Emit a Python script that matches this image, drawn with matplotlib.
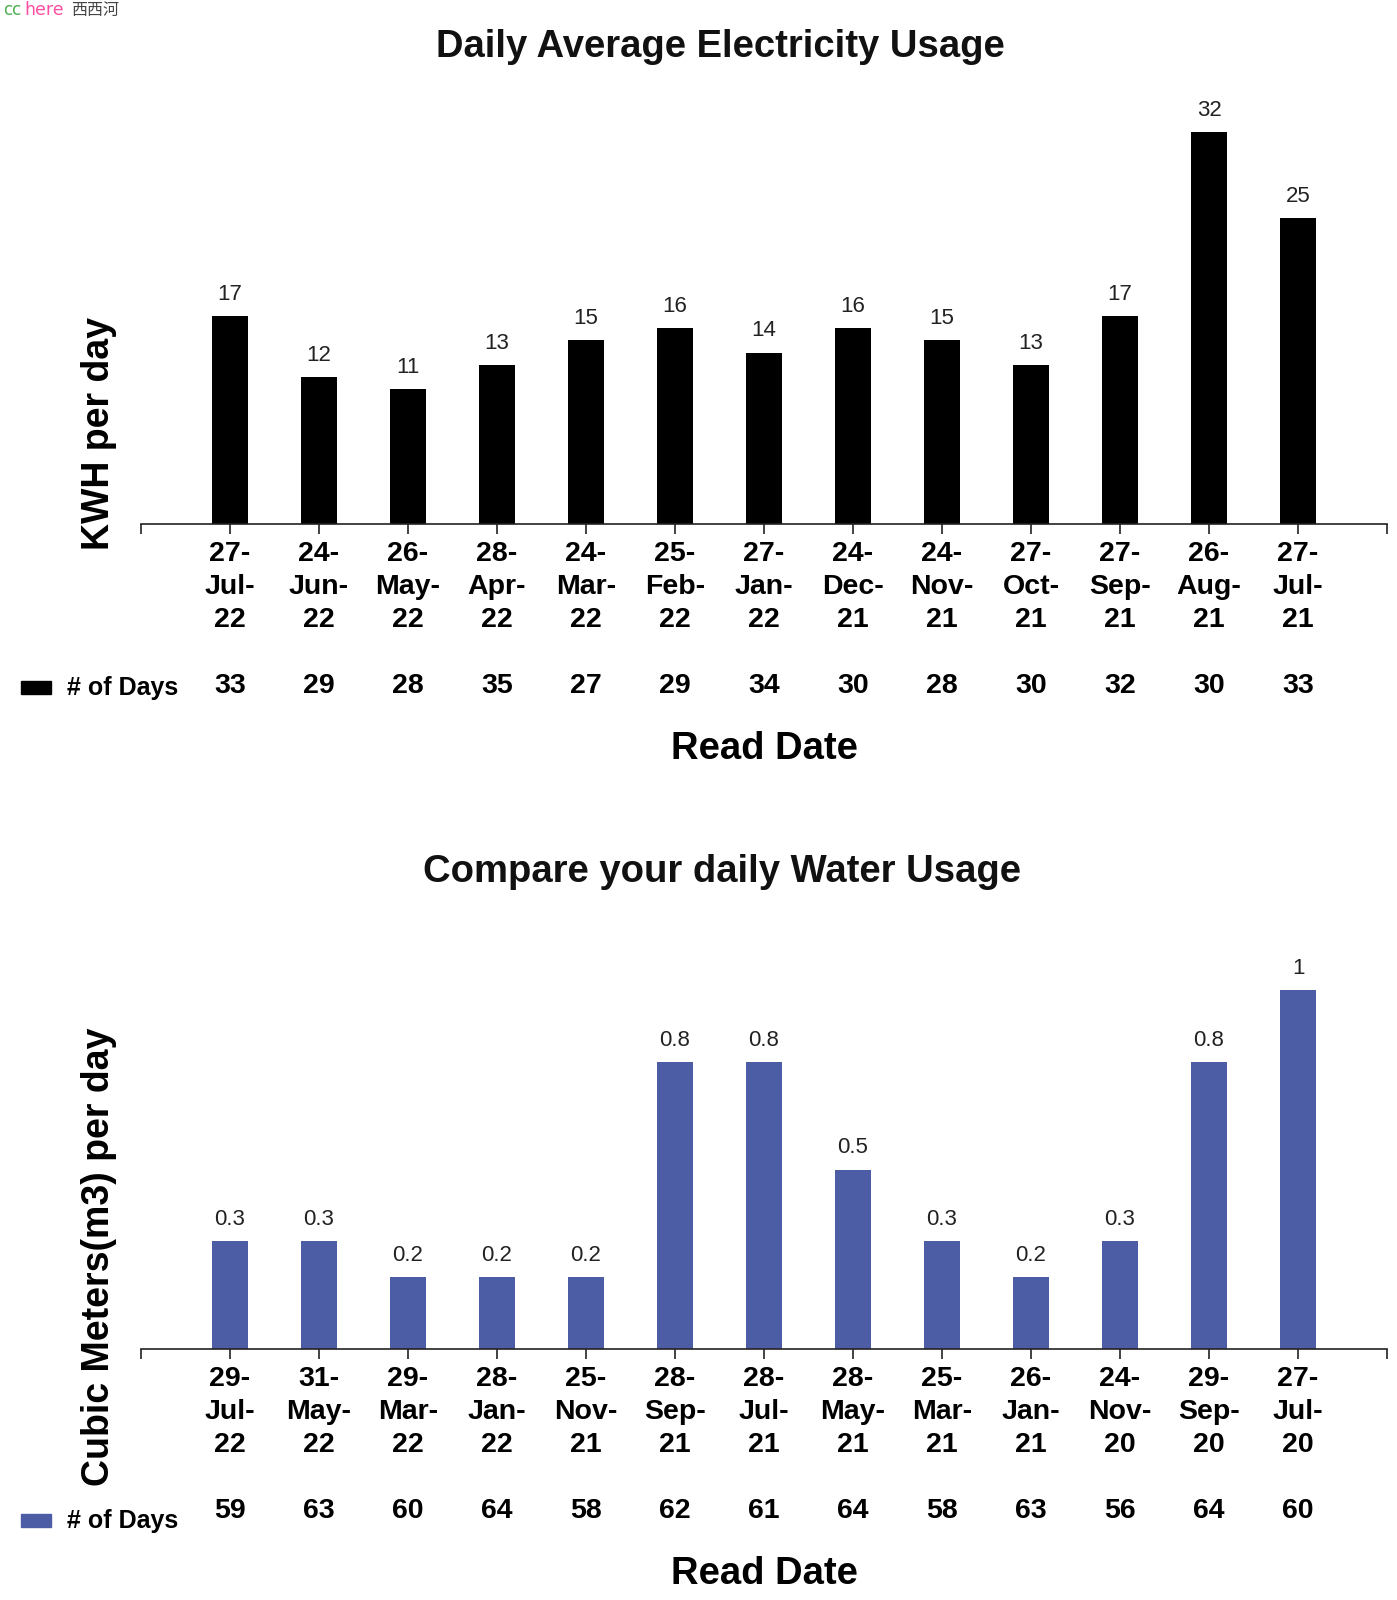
import numpy as np
import matplotlib.pyplot as plt
from matplotlib.patches import Rectangle

plt.rcParams['font.family'] = ['Liberation Sans', 'DejaVu Sans']

# Electricity data
elec_dates = ["27-\nJul-\n22", "24-\nJun-\n22", "26-\nMay-\n22", "28-\nApr-\n22", "24-\nMar-\n22",
              "25-\nFeb-\n22", "27-\nJan-\n22", "24-\nDec-\n21", "24-\nNov-\n21", "27-\nOct-\n21",
              "27-\nSep-\n21", "26-\nAug-\n21", "27-\nJul-\n21"]
elec_kwh = [17, 12, 11, 13, 15, 16, 14, 16, 15, 13, 17, 32, 25]
elec_days = [33, 29, 28, 35, 27, 29, 34, 30, 28, 30, 32, 30, 33]

# Water data
water_dates = ["29-\nJul-\n22", "31-\nMay-\n22", "29-\nMar-\n22", "28-\nJan-\n22", "25-\nNov-\n21",
               "28-\nSep-\n21", "28-\nJul-\n21", "28-\nMay-\n21", "25-\nMar-\n21", "26-\nJan-\n21",
               "24-\nNov-\n20", "29-\nSep-\n20", "27-\nJul-\n20"]
water_m3 = [0.3, 0.3, 0.2, 0.2, 0.2, 0.8, 0.8, 0.5, 0.3, 0.2, 0.3, 0.8, 1]
water_days = [59, 63, 60, 64, 58, 62, 61, 64, 58, 63, 56, 64, 60]

W, H = 1397, 1600
fig = plt.figure(figsize=(W / 100, H / 100), dpi=100)


def fx(px):
    return px / W


def fy(py):
    return 1 - py / H


def make_chart(top, base, ymax, dates, vals, days, color, title, title_xy,
               ylabel, ylab_y, days_y, leg_y, xlab_y):
    left, right = 141, 1387
    ax = fig.add_axes([fx(left), fy(base), fx(right - left), (base - top) / H])
    x = np.arange(len(vals))
    bars = ax.bar(x, vals, width=0.4, color=color)
    ax.bar_label(bars, labels=['{:g}'.format(v) for v in vals], padding=8,
                 fontsize=16, color='#222222')
    ax.set_xlim(-1, len(vals))
    ax.set_ylim(0, ymax)
    for s in ['left', 'top', 'right']:
        ax.spines[s].set_visible(False)
    ax.spines['bottom'].set_linewidth(1.2)
    ax.spines['bottom'].set_color('#222222')
    ax.set_yticks([])
    ax.set_xticks(np.arange(-1, len(vals) + 1))
    ax.set_xticklabels([''] + dates + [''], fontsize=20.5, fontweight='bold',
                       linespacing=1.35)
    ax.tick_params(axis='x', length=7, width=1.2, color='#222222', pad=5.3)

    # row with number of days
    span = base - top
    for i, d in enumerate(days):
        ax.text(i, (base - days_y) / span, str(d), transform=ax.get_xaxis_transform(),
                ha='center', va='center', fontsize=20.5, fontweight='bold')
    fig.patches.append(Rectangle((fx(21), fy(leg_y + 6)), fx(30), 13 / H,
                                 transform=fig.transFigure, color=color))
    fig.text(fx(67), fy(leg_y), '# of Days', ha='left', va='center',
             fontsize=18, fontweight='bold')

    ax.set_xlabel('Read Date', fontsize=27.5, fontweight='bold')
    ax.xaxis.set_label_coords(0.5, (base - xlab_y) / span)
    ax.xaxis.label.set_va('center')
    ax.set_ylabel(ylabel, fontsize=27, fontweight='bold')
    ax.yaxis.set_label_coords((99 - left) / (right - left), (base - ylab_y) / span)
    ax.yaxis.label.set_va('center')

    fig.text(fx(title_xy[0]), fy(title_xy[1]), title, ha='center', va='center',
             fontsize=27.5, fontweight='bold', color='#111111')
    return ax


make_chart(90, 524, 434 / 12.25, elec_dates, elec_kwh, elec_days, 'black',
           'Daily Average Electricity Usage', (720, 47),
           'KWH per day', 434, 686, 688, 749)
make_chart(930, 1349, 419 / 359, water_dates, water_m3, water_days, '#4C5DA6',
           'Compare your daily Water Usage', (722, 872),
           'Cubic Meters(m3) per day', 1257, 1511, 1521, 1574)

# watermark
fig.text(fx(3), fy(10), 'cc', color='#4CAF50', fontsize=12, va='center', ha='left',
         family='DejaVu Sans')
fig.text(fx(24), fy(10), 'here', color='#FF4FA3', fontsize=12.5, va='center', ha='left',
         family='DejaVu Sans')
fig.text(fx(71), fy(10), '西西河', color='#444444', fontsize=11.5, va='center', ha='left',
         family=['Noto Sans CJK SC', 'DejaVu Sans'])

fig.savefig('out.png', dpi=100)
